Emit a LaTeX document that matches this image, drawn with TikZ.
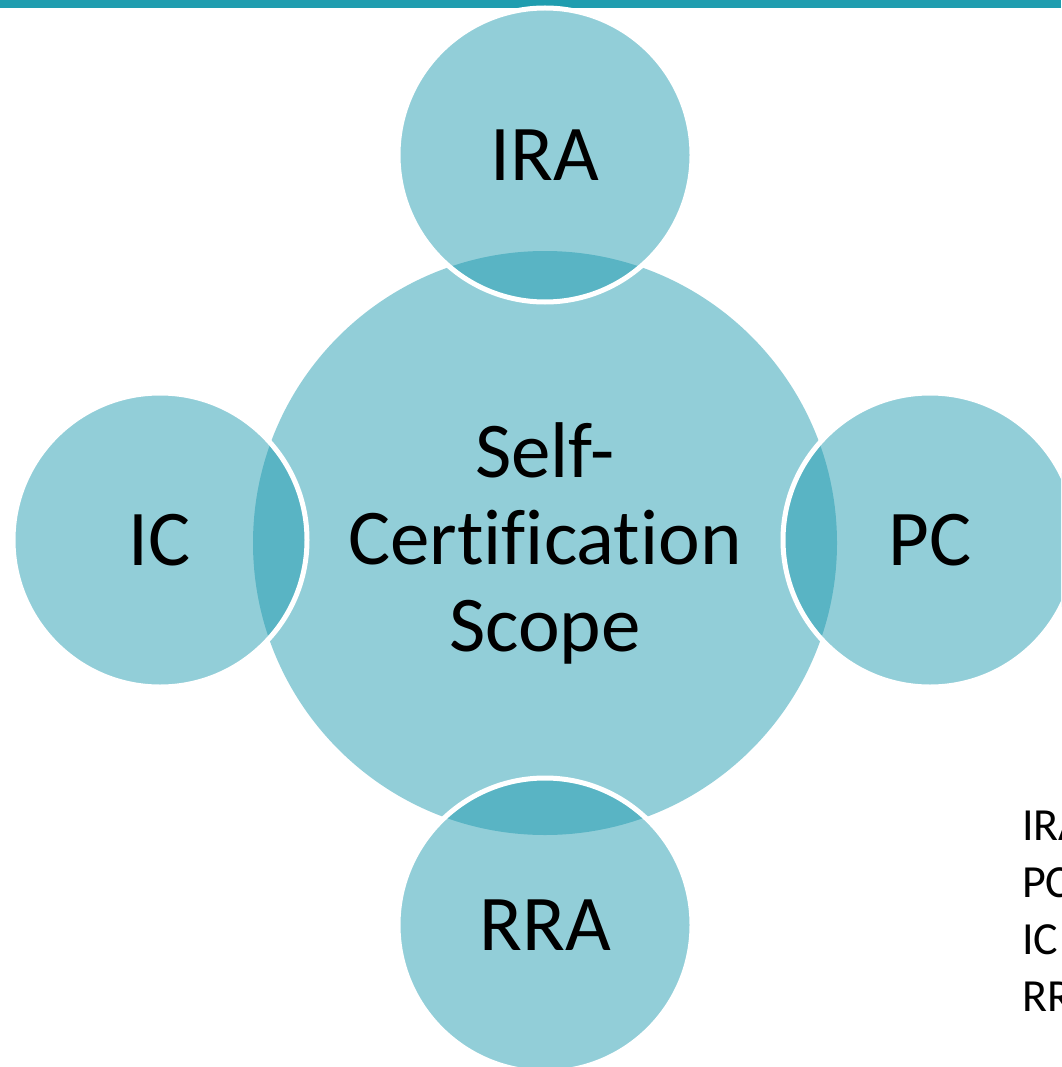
\documentclass[tikz,border=0pt]{standalone}
\usepackage{fontspec}
\setmainfont{Carlito}[Ligatures=NoCommon]
\definecolor{barcol}{RGB}{32,157,175}
\definecolor{tealfill}{RGB}{22,150,172}
\begin{document}
\begin{tikzpicture}[x=1pt,y=-1pt,
  hub/.style={circle, fill=tealfill, fill opacity=0.468, text opacity=1,
    minimum size=584pt, inner sep=0pt, align=center,
    font=\fontsize{79}{87}\selectfont},
  bubble/.style={circle, fill=tealfill, fill opacity=0.468, text opacity=1,
    draw=white, draw opacity=1, line width=5pt, minimum size=294pt,
    inner sep=0pt, font=\fontsize{79}{88}\selectfont},
  legend/.style={anchor=base west, inner sep=0pt,
    font=\fontsize{46}{57}\selectfont}]
\useasboundingbox (0,0) rectangle (1061,1067);
\clip (0,0) rectangle (1061,1067);
\fill[barcol] (0,0) rectangle (1061,8);
\node[hub] (center) at (545,543) {Self-\\Certification\\Scope};
\node[bubble] (ira) at (545,155) {IRA};
\node[bubble] (ic) at (160,540) {IC};
\node[bubble] (pc) at (930,540) {PC};
\node[bubble] (rra) at (545,925) {RRA};
\node[legend] (l1) at (1022,840) {IRA};
\node[legend] (l2) at (1022,897) {PC};
\node[legend] (l3) at (1022,954) {IC};
\node[legend] (l4) at (1022,1011) {RRA};
\end{tikzpicture}
\end{document}
